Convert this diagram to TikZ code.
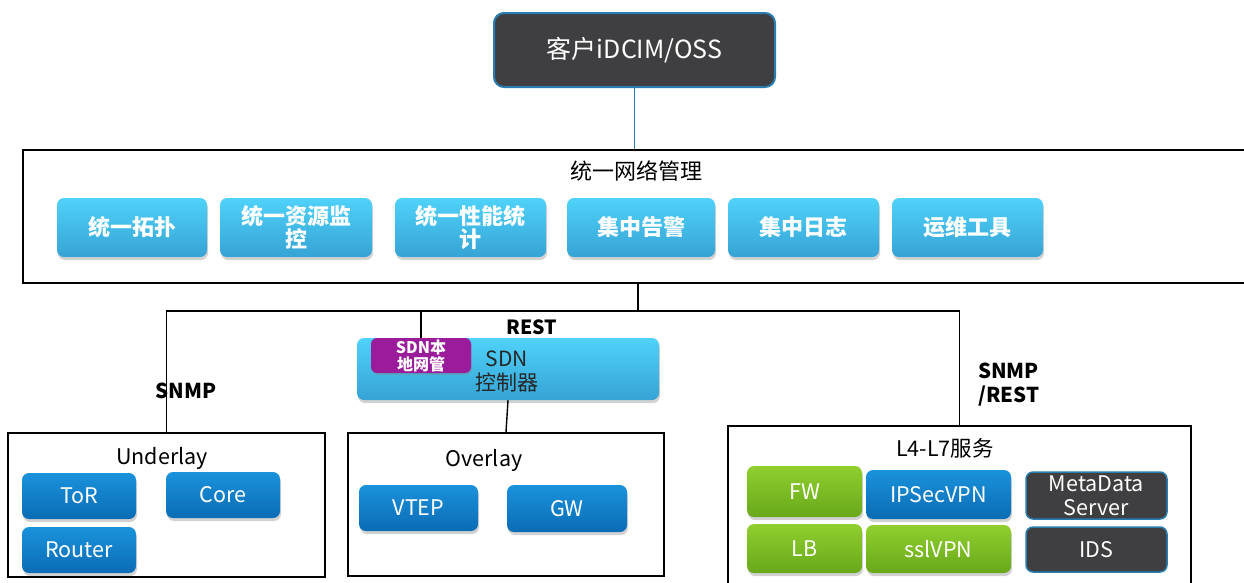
\documentclass[tikz,border=0pt]{standalone}
\usepackage{fontspec}
\setmainfont{Noto Sans CJK SC}
\usetikzlibrary{shadows}
\definecolor{darkbox}{HTML}{3F3F41}
\definecolor{darkedge}{HTML}{2A7DB0}
\definecolor{lbtop}{HTML}{4FD2FA}
\definecolor{lbbot}{HTML}{36A3D4}
\definecolor{bbtop}{HTML}{1A92DC}
\definecolor{bbbot}{HTML}{0A6CB4}
\definecolor{gtop}{HTML}{90CF2E}
\definecolor{gbot}{HTML}{68A81A}
\definecolor{purp}{HTML}{9A1C9A}
\tikzset{
  frame/.style={draw=black, line width=1.6pt, fill=white, inner sep=0pt},
  conn/.style={draw=black, line width=1.4pt},
  basebtn/.style={rounded corners=7pt, inner sep=0pt, align=center, text=white,
     drop shadow={shadow xshift=1pt, shadow yshift=-3pt, opacity=0.35}},
  lbtn/.style={basebtn, top color=lbtop, bottom color=lbbot, font=\fontsize{22}{23}\selectfont\bfseries},
  bbtn/.style={basebtn, top color=bbtop, bottom color=bbbot, font=\fontsize{21.5}{23}\selectfont},
  gbtn/.style={basebtn, top color=gtop, bottom color=gbot, font=\fontsize{21.5}{23}\selectfont},
  dbtn/.style={rounded corners=7pt, inner sep=0pt, align=center, text=white, fill=darkbox,
     draw=darkedge, line width=1.5pt, font=\fontsize{21.5}{23}\selectfont},
  lbl/.style={font=\fontsize{19.5}{24}\selectfont\bfseries, inner sep=0pt, align=left},
  ttl/.style={font=\fontsize{21.5}{23}\selectfont, inner sep=0pt}
}
\begin{document}
\begin{tikzpicture}[x=1pt,y=-1pt]
\clip (0,0) rectangle (1244,582);
\fill[white] (0,0) rectangle (1244,582);

% top box
\node[rounded corners=10pt, fill=darkbox, draw=darkedge, line width=2pt, text=white,
  minimum width=281pt, minimum height=74pt, inner sep=0pt,
  font=\fontsize{25}{28}\selectfont] (top) at (634.5,50) {客户iDCIM/OSS};

% management frame
\node[frame, minimum width=1232pt, minimum height=133pt] (mgmt) at (639,216.5) {};
\node[ttl, font=\fontsize{22}{23}\selectfont] (mgmtt) at (636,171) {统一网络管理};
\node[lbtn, minimum width=150pt, minimum height=59pt] (b1) at (132,227.5) {统一拓扑};
\node[lbtn, minimum width=152pt, minimum height=59pt] (b2) at (296,227.5) {统一资源监\\控};
\node[lbtn, minimum width=151pt, minimum height=59pt] (b3) at (470.5,227.5) {统一性能统\\计};
\node[lbtn, minimum width=148pt, minimum height=59pt] (b4) at (641,227.5) {集中告警};
\node[lbtn, minimum width=151pt, minimum height=59pt] (b5) at (803.5,227.5) {集中日志};
\node[lbtn, minimum width=151pt, minimum height=59pt] (b6) at (967.5,227.5) {运维工具};

% lower frames
\node[frame, minimum width=317pt, minimum height=144pt] (under) at (166.5,505) {};
\node[ttl] (undert) at (162,458) {Underlay};
\node[frame, minimum width=316pt, minimum height=143pt] (over) at (506,504.5) {};
\node[ttl] (overt) at (484,460) {Overlay};
\node[frame, minimum width=463pt, minimum height=170pt] (l47) at (959.5,511) {};
\node[ttl] (l47t) at (945,448) {L4-L7服务};

% SDN controller
\node[basebtn, top color=lbtop, bottom color=lbbot,
  minimum width=302pt, minimum height=62pt] (sdn) at (508,369) {};
\node[font=\fontsize{21}{24}\selectfont, text=black!85, align=center, inner sep=0pt] (sdnt) at (507,371) {SDN\\控制器};
\node[rounded corners=6pt, fill=purp, text=white, inner sep=0pt, align=center,
  minimum width=100pt, minimum height=35pt, font=\fontsize{16}{17}\selectfont\bfseries,
  drop shadow={shadow xshift=1pt, shadow yshift=-2pt, opacity=0.3}] (sdnm) at (421,355.5) {SDN本\\地网管};

% underlay buttons
\node[bbtn, minimum width=114pt, minimum height=46pt] (tor) at (79,496) {ToR};
\node[bbtn, minimum width=114pt, minimum height=46pt] (core) at (223,495) {Core};
\node[bbtn, minimum width=114pt, minimum height=46pt] (router) at (79,550) {Router};
% overlay buttons
\node[bbtn, minimum width=119pt, minimum height=46pt] (vtep) at (418.5,508) {VTEP};
\node[bbtn, minimum width=120pt, minimum height=47pt] (gw) at (567,508.5) {GW};
% L4-L7 buttons
\node[gbtn, minimum width=115pt, minimum height=51pt] (fw) at (804.5,491.5) {FW};
\node[bbtn, minimum width=145pt, minimum height=49pt] (ipsec) at (938.5,494.5) {IPSecVPN};
\node[gbtn, minimum width=115pt, minimum height=49pt] (lb) at (804.5,548.5) {LB};
\node[gbtn, minimum width=145pt, minimum height=48pt] (ssl) at (938.5,549) {sslVPN};
\node[dbtn, minimum width=141pt, minimum height=47pt, font=\fontsize{21.5}{23.5}\selectfont] (meta) at (1096.5,495.5) {MetaData\\Server};
\node[dbtn, minimum width=141pt, minimum height=45pt] (ids) at (1096.5,549.5) {IDS};

% connectors
\coordinate (bus) at (0,311);
\coordinate (j) at (638,311);
\draw[draw=darkedge, line width=1.4pt] (top.south) -- (top.south |- mgmt.north);
\draw[conn] (mgmt.south -| j) -- (j);
\draw[conn] (under.north) -- (under.north |- bus) -- (l47.north |- bus) -- (l47.north);
\draw[conn] (sdnm.north |- bus) -- (sdnm.north);
\draw[conn] (sdn.south) -- (over.north);

% labels
\node[lbl] (rest) at (532,327) {REST};
\node[lbl, font=\fontsize{20.5}{24}\selectfont\bfseries] (snmp) at (186,391) {SNMP};
\node[lbl, anchor=west, font=\fontsize{20.5}{24}\selectfont\bfseries] (snmprest) at (978,385) {SNMP\\/REST};
\end{tikzpicture}
\end{document}
